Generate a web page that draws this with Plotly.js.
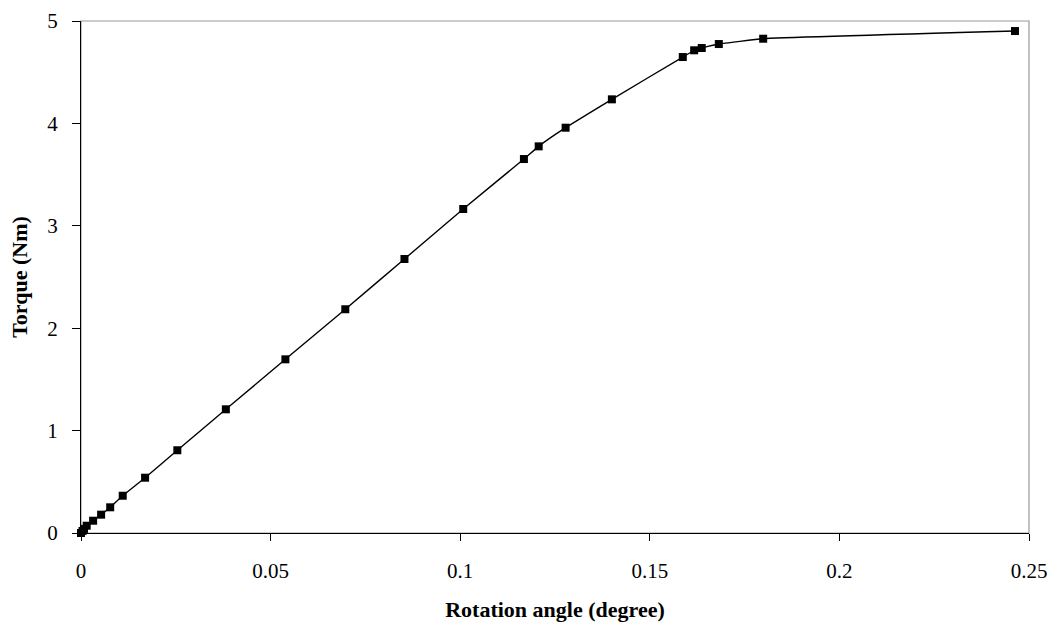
<!DOCTYPE html>
<html>
<head>
<meta charset="utf-8">
<script src="https://cdn.plot.ly/plotly-3.0.1.min.js"></script>
<style>html,body{margin:0;padding:0;background:#fff;}#chart{width:1059px;height:634px;}</style>
</head>
<body>
<div id="chart"></div>
<script>
// Rotation angle (degree)
const rotationAngle = [0, 0.0004, 0.0008, 0.0015, 0.0032, 0.0053, 0.0077, 0.0110, 0.0169, 0.0254, 0.0382, 0.0539, 0.0697, 0.0853, 0.1008, 0.1168, 0.1207, 0.1278, 0.1400, 0.1587, 0.1617, 0.1637, 0.1682, 0.1799, 0.2463];
// Torque (Nm)
const torque = [0, 0.02, 0.04, 0.071, 0.120, 0.179, 0.251, 0.364, 0.540, 0.808, 1.208, 1.696, 2.185, 2.676, 3.164, 3.652, 3.776, 3.958, 4.235, 4.648, 4.714, 4.736, 4.775, 4.827, 4.902];
const xTicks = [0, 0.05, 0.1, 0.15, 0.2, 0.25];
const xTickText = ['0', '0.05', '0.1', '0.15', '0.2', '0.25'];
const yTicks = [0, 1, 2, 3, 4, 5];

const font = 'Liberation Serif, Times New Roman, serif';
const trace = {
  x: rotationAngle, y: torque,
  type: 'scatter', mode: 'lines+markers',
  line: {color: '#000', width: 1.4, shape: 'spline', smoothing: 0.3},
  marker: {symbol: 'square', size: 8, color: '#000'},
  cliponaxis: false,
  hoverinfo: 'x+y'
};
const layout = {
  width: 1059, height: 634,
  margin: {l: 81, r: 30, t: 21, b: 101},
  paper_bgcolor: '#fff', plot_bgcolor: '#fff',
  showlegend: false,
  font: {family: font, color: '#000', size: 21},
  xaxis: {
    range: [0, 0.25], tickvals: xTicks, ticktext: xTickText,
    showgrid: false, zeroline: false,
    showline: true, linecolor: '#000', linewidth: 1,
    ticks: 'outside', ticklen: 7, tickcolor: '#000',
    ticklabelstandoff: 12,
    tickfont: {family: font, size: 21},
    title: {text: '<b>Rotation angle (degree)</b>', font: {family: font, size: 22}, standoff: 19}
  },
  yaxis: {
    range: [0, 5], tickvals: yTicks,
    showgrid: false, zeroline: false,
    showline: true, linecolor: '#000', linewidth: 1,
    ticks: 'outside', ticklen: 8, tickcolor: '#000',
    ticklabelstandoff: 10,
    tickfont: {family: font, size: 21},
    title: {text: '<b>Torque (Nm)</b>', font: {family: font, size: 22}, standoff: 13}
  },
  shapes: [{
    type: 'rect', xref: 'paper', yref: 'paper', x0: 0, x1: 1, y0: 0, y1: 1,
    line: {color: '#999', width: 1.2}, layer: 'below'
  }]
};
Plotly.newPlot('chart', [trace], layout, {displayModeBar: false, staticPlot: true});
</script>
</body>
</html>
